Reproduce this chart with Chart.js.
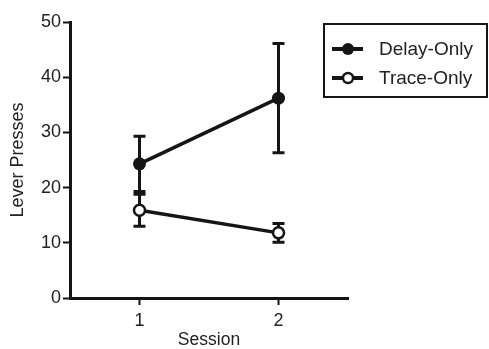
<!DOCTYPE html>
<html>
<head>
<meta charset="utf-8">
<script src="https://cdn.jsdelivr.net/npm/chart.js@4"></script>
<style>
  html, body { margin: 0; padding: 0; background: #fff; }
  #wrap { width: 489px; height: 349px; position: relative; }
</style>
</head>
<body>
<div id="wrap"><canvas id="chart"></canvas></div>
<script>
// data
const sessions = [1, 2];
const seriesNames = ['Delay-Only', 'Trace-Only'];
const delayMean = [24.3, 36.2];
const delayErr = [5.0, 9.9];
const traceMean = [15.9, 11.8];
const traceErr = [2.9, 1.7];
const yTicks = [0, 10, 20, 30, 40, 50];
const xTicks = [1, 2];

const ink = '#151515';
const fontFamily = 'Liberation Sans, Arial, Helvetica, sans-serif';

// error bars, drawn under the points
const errorBars = {
    id: 'errorBars',
    beforeDatasetsDraw(chart) {
        const ctx = chart.ctx;
        const xs = chart.scales.x, ys = chart.scales.y;
        const errs = [delayErr, traceErr];
        chart.data.datasets.forEach((ds, i) => {
            ds.data.forEach((p, j) => {
                const x = xs.getPixelForValue(p.x);
                const top = ys.getPixelForValue(p.y + errs[i][j]);
                const bot = ys.getPixelForValue(p.y - errs[i][j]);
                ctx.save();
                ctx.strokeStyle = ink;
                ctx.lineWidth = 3;
                ctx.beginPath();
                ctx.moveTo(x, top); ctx.lineTo(x, bot);
                ctx.moveTo(x - 6, top); ctx.lineTo(x + 6, top);
                ctx.moveTo(x - 6, bot); ctx.lineTo(x + 6, bot);
                ctx.stroke();
                ctx.restore();
            });
        });
    }
};

// boxed legend at the top right
const boxLegend = {
    id: 'boxLegend',
    afterDraw(chart) {
        const ctx = chart.ctx;
        ctx.save();
        ctx.strokeStyle = ink;
        ctx.lineWidth = 2;
        ctx.strokeRect(324, 24, 163, 73);
        const rows = [49, 78];
        chart.data.datasets.forEach((ds, i) => {
            const y = rows[i];
            ctx.lineWidth = 4;
            ctx.beginPath();
            ctx.moveTo(332, y); ctx.lineTo(363, y);
            ctx.stroke();
            ctx.beginPath();
            ctx.arc(348, y, i === 0 ? 6 : 5, 0, Math.PI * 2);
            ctx.fillStyle = i === 0 ? ink : '#fff';
            ctx.fill();
            if (i === 1) { ctx.lineWidth = 2.5; ctx.stroke(); }
            ctx.fillStyle = '#222';
            ctx.font = '19px ' + fontFamily;
            ctx.textBaseline = 'middle';
            ctx.textAlign = 'left';
            ctx.fillText(ds.label, 379, y + 1);
        });
        ctx.restore();
    }
};

new Chart(document.getElementById('chart'), {
    type: 'line',
    data: {
        datasets: [{
            label: seriesNames[0],
            data: sessions.map((s, i) => ({ x: s, y: delayMean[i] })),
            borderColor: ink,
            borderWidth: 3.5,
            pointRadius: 6.5,
            pointBackgroundColor: ink,
            pointBorderColor: ink,
            pointBorderWidth: 0
        }, {
            label: seriesNames[1],
            data: sessions.map((s, i) => ({ x: s, y: traceMean[i] })),
            borderColor: ink,
            borderWidth: 3.5,
            pointRadius: 5.5,
            pointBackgroundColor: '#fff',
            pointBorderColor: ink,
            pointBorderWidth: 2.5
        }]
    },
    options: {
        responsive: true,
        maintainAspectRatio: false,
        animation: false,
        layout: { padding: { top: 22, right: 141, left: 0, bottom: 0 } },
        plugins: { legend: { display: false }, tooltip: { enabled: false } },
        scales: {
            x: {
                type: 'linear',
                min: 0.5,
                max: 2.5,
                afterBuildTicks: s => { s.ticks = xTicks.map(v => ({ value: v })); },
                afterFit: s => { s.height = 51; },
                border: { width: 3, color: ink },
                grid: { drawOnChartArea: false, tickLength: 7, tickWidth: 2, tickColor: ink },
                ticks: { color: '#222', font: { size: 18, family: fontFamily }, padding: 5 },
                title: { display: true, text: 'Session', color: '#222', font: { size: 17.5, family: fontFamily }, padding: { top: 0, bottom: -1.5 } }
            },
            y: {
                min: 0,
                max: 50,
                afterBuildTicks: s => { s.ticks = yTicks.map(v => ({ value: v })); },
                afterFit: s => { s.width = 70; },
                border: { width: 3, color: ink },
                grid: { drawOnChartArea: false, tickLength: 7, tickWidth: 2, tickColor: ink },
                ticks: { color: '#222', font: { size: 18, family: fontFamily }, padding: 2 },
                title: { display: true, text: 'Lever Presses', color: '#222', font: { size: 18, family: fontFamily }, padding: { top: 7.5, bottom: 0 } }
            }
        }
    },
    plugins: [errorBars, boxLegend]
});
</script>
</body>
</html>
